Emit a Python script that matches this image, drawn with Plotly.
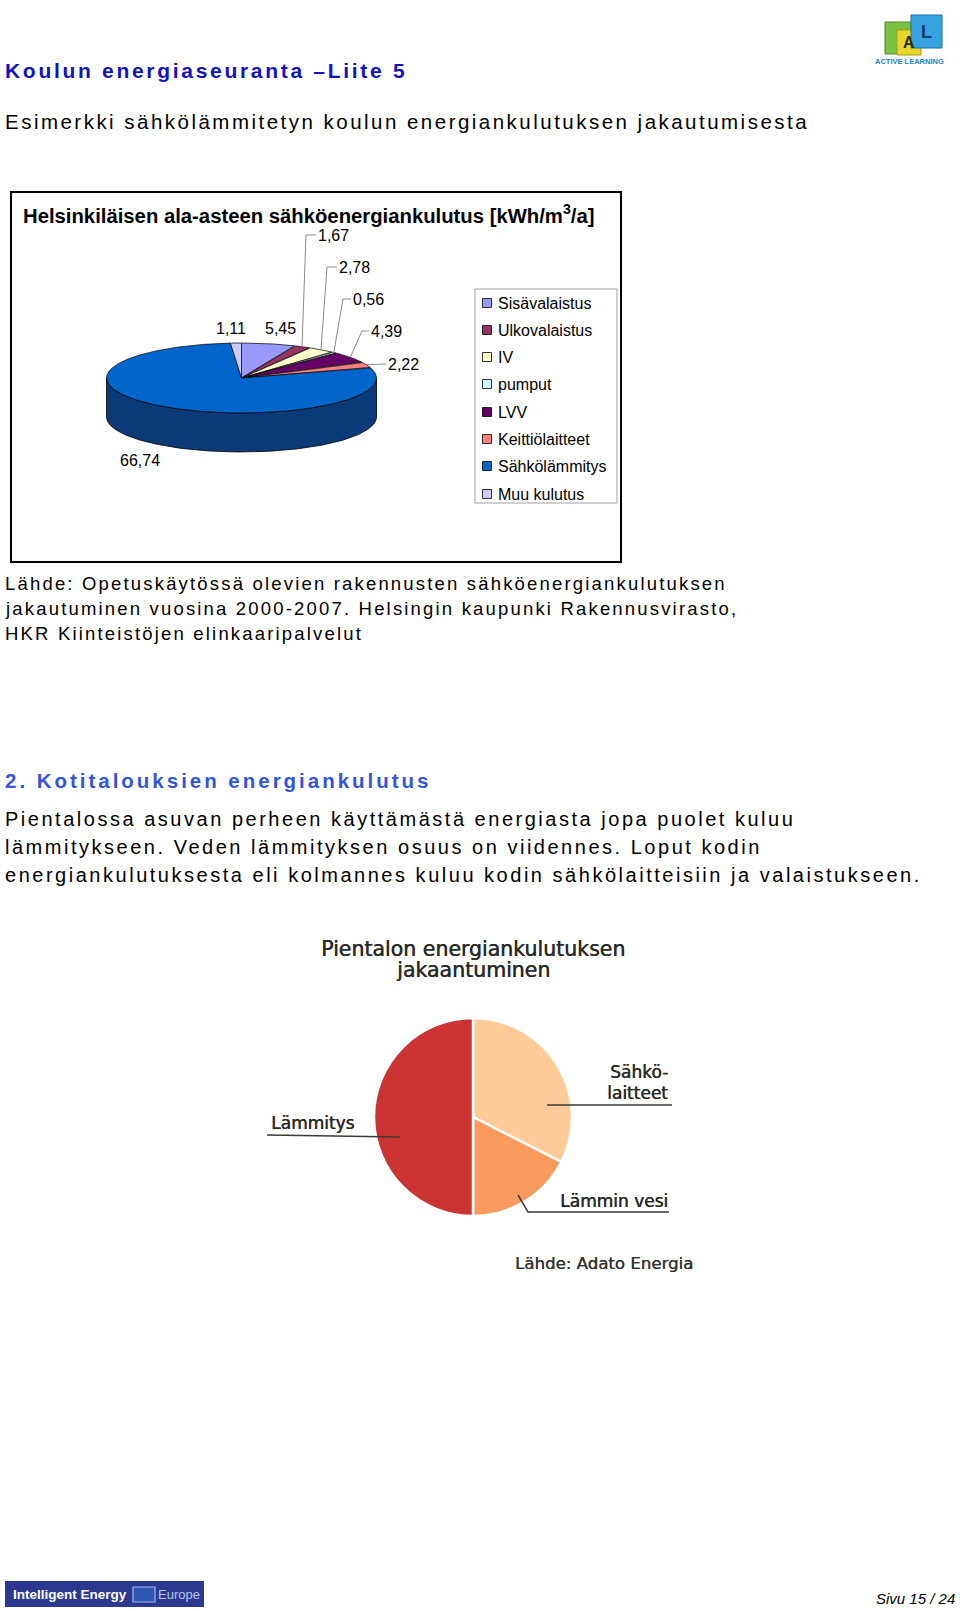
import math
import plotly.graph_objects as go

# ---------------- data ----------------
school_categories = ["Sisävalaistus", "Ulkovalaistus", "IV", "pumput", "LVV",
                     "Keittiölaitteet", "Sähkölämmitys", "Muu kulutus"]
school_values = [5.45, 1.67, 2.78, 0.56, 4.39, 2.22, 66.74, 1.11]
school_colors = ["#9999FF", "#993366", "#FFFFCC", "#CCFFFF", "#660066",
                 "#FF8080", "#0066CC", "#CCCCFF"]
school_title = "Helsinkiläisen ala-asteen sähköenergiankulutus [kWh/m<sup>3</sup>/a]"

home_categories = ["Sähkölaitteet", "Lämmin vesi", "Lämmitys"]
home_values = [32.5, 17.5, 50]
home_colors = ["#FDCB98", "#FB9A5F", "#CC3333"]

W, H = 960, 1611
FONT = "Liberation Sans, Arial, sans-serif"
VFONT = "DejaVu Sans, Verdana, sans-serif"

fig = go.Figure()

# ---------------- 3D-looking pie (school) ----------------
CX, CY, RX, RY, DEPTH = 241.5, 378, 135, 35, 39
total = sum(school_values)


def ept(theta_deg, dy=0.0):
    t = math.radians(theta_deg)
    return CX + RX * math.sin(t), CY - RY * math.cos(t) + dy


# side band (visible front half)
side_x, side_y = [], []
for k in range(0, 181):
    x, y = ept(90 + k)
    side_x.append(x); side_y.append(y)
for k in range(180, -1, -1):
    x, y = ept(90 + k, DEPTH)
    side_x.append(x); side_y.append(y)
side_x.append(side_x[0]); side_y.append(side_y[0])
fig.add_trace(go.Scatter(x=side_x, y=side_y, mode="lines", fill="toself",
                         fillcolor="#0b3a78", line=dict(color="#000000", width=0.8),
                         hoverinfo="skip"))

# top wedges
angles = []
cum = 0.0
for v in school_values:
    a0 = cum / total * 360
    cum += v
    a1 = cum / total * 360
    angles.append((a0, a1))

for (a0, a1), col in zip(angles, school_colors):
    xs, ys = [CX], [CY]
    n = max(4, int((a1 - a0) * 2))
    for k in range(n + 1):
        x, y = ept(a0 + (a1 - a0) * k / n)
        xs.append(x); ys.append(y)
    xs.append(CX); ys.append(CY)
    fig.add_trace(go.Scatter(x=xs, y=ys, mode="lines", fill="toself",
                             fillcolor=col, line=dict(color="#000000", width=0.7),
                             hoverinfo="skip"))

shapes = []
annotations = []


def txt(x, y, s, size, color="#000000", family=FONT, xanchor="left", ls=None,
        yanchor="middle", shadow=None):
    if ls is not None:
        s = f'<span style="letter-spacing:{ls}px">{s}</span>'
    font = dict(size=size, color=color, family=family)
    if shadow:
        font["shadow"] = shadow
    annotations.append(dict(x=x, y=y, xref="x", yref="y", text=s, showarrow=False,
                            xanchor=xanchor, yanchor=yanchor, font=font))


def line(x0, y0, x1, y1, color="#000", width=1):
    shapes.append(dict(type="line", xref="x", yref="y", x0=x0, y0=y0, x1=x1, y1=y1,
                       line=dict(color=color, width=width)))


def fmt(v):
    return f"{v:.2f}".replace(".", ",")


# data labels
LBL = 16
mid = [(a0 + a1) / 2 for a0, a1 in angles]
leader_labels = {1: (316, 235, 306), 2: (337, 267, 327), 3: (351, 299, 343), 4: (369, 331, 362)}
for i, (tx, ty, ex) in leader_labels.items():
    px, py = ept(mid[i])
    shapes.append(dict(type="path", xref="x", yref="y",
                       path=f"M {tx} {ty} L {ex} {ty} L {px:.1f} {py:.1f}",
                       line=dict(color="#8a8a8a", width=1)))
    txt(tx, ty, fmt(school_values[i]), LBL)
px, py = ept(mid[5])
line(px, py, 386, 364, "#8a8a8a", 1)
txt(386, 364, fmt(school_values[5]), LBL)
txt(280, 328, fmt(school_values[0]), LBL, xanchor="center")
txt(231, 328, fmt(school_values[7]), LBL, xanchor="center")
txt(140, 460, fmt(school_values[6]), LBL, xanchor="center")

# chart box + title
shapes.append(dict(type="rect", xref="x", yref="y", x0=11, y0=192, x1=621, y1=562,
                   line=dict(color="#000000", width=2)))
txt(21, 214, "<b>" + school_title + "</b>", 20.3)

# legend
shapes.append(dict(type="rect", xref="x", yref="y", x0=475, y0=289, x1=617, y1=503,
                   line=dict(color="#a0a0a0", width=1)))
row_y = [303, 330, 357, 384, 412, 439, 466, 494]
for cat, col, yy in zip(school_categories, school_colors, row_y):
    shapes.append(dict(type="rect", xref="x", yref="y", x0=482.5, y0=yy - 4.5, x1=491.5, y1=yy + 4.5,
                       fillcolor=col, line=dict(color="#000000", width=0.8)))
    txt(495.5, yy, cat, 16)

# ---------------- home pie ----------------
pcx, pcy, pr = 473, 1117, 99
fig.add_trace(go.Pie(labels=home_categories, values=home_values, sort=False,
                     direction="clockwise", rotation=0,
                     marker=dict(colors=home_colors, line=dict(color="#ffffff", width=2.5)),
                     textinfo="none", hoverinfo="label+percent",
                     domain=dict(x=[(pcx - pr) / W, (pcx + pr) / W],
                                 y=[(H - pcy - pr) / H, (H - pcy + pr) / H])))

SH = "0.5px 0 0 #2a2a2a"
txt(473, 949, "Pientalon energiankulutuksen", 20.5, "#2a2a2a", VFONT, "center", shadow=SH)
txt(473, 970, "jakaantuminen", 20.5, "#2a2a2a", VFONT, "center", shadow=SH)
txt(670, 1072, "Sähkö-", 17, "#2a2a2a", VFONT, "right", shadow=SH)
txt(670, 1093, "laitteet", 17, "#2a2a2a", VFONT, "right", shadow=SH)
line(547, 1105, 672, 1105, "#3a3a3a", 1.5)
txt(269, 1123, "Lämmitys", 17, "#2a2a2a", VFONT, "left", shadow=SH)
line(267, 1135, 400, 1137, "#3a3a3a", 1.5)
txt(670, 1201, "Lämmin vesi", 17, "#2a2a2a", VFONT, "right", shadow=SH)
shapes.append(dict(type="path", xref="x", yref="y", path="M 518 1195 L 528 1212 L 669 1212",
                   line=dict(color="#3a3a3a", width=1.5)))
txt(604, 1263, "Lähde: Adato Energia", 16.6, "#333333", VFONT, "center", shadow="0.3px 0 0 #333")

# ---------------- page text ----------------
X0 = 3
txt(X0, 70, "<b>Koulun energiaseuranta –Liite 5</b>", 21, "#1212c4", ls=2.7)
txt(X0, 121, "Esimerkki sähkölämmitetyn koulun energiankulutuksen jakautumisesta", 20.5, ls=2.48)
src_lines = ["Lähde: Opetuskäytössä olevien rakennusten sähköenergiankulutuksen",
             "jakautuminen vuosina 2000-2007. Helsingin kaupunki Rakennusvirasto,",
             "HKR Kiinteistöjen elinkaaripalvelut"]
for k, s in enumerate(src_lines):
    txt(X0, 583 + 25 * k, s, 18.5, ls=2.18)
txt(X0, 780, "<b>2. Kotitalouksien energiankulutus</b>", 20.5, "#3355dd", ls=2.98)
para = ["Pientalossa asuvan perheen käyttämästä energiasta jopa puolet kuluu",
        "lämmitykseen. Veden lämmityksen osuus on viidennes. Loput kodin",
        "energiankulutuksesta eli kolmannes kuluu kodin sähkölaitteisiin ja valaistukseen."]
for k, s in enumerate(para):
    txt(X0, 819 + 28 * k, s, 20, ls=2.52)

# ---------------- logos / footer ----------------
shapes += [
    dict(type="rect", xref="x", yref="y", x0=885, y0=22, x1=911, y1=54,
         fillcolor="#7cc242", line=dict(color="#4f8a22", width=1)),
    dict(type="rect", xref="x", yref="y", x0=897, y0=30, x1=921, y1=55,
         fillcolor="#e8d52c", line=dict(color="#a89a10", width=1)),
    dict(type="rect", xref="x", yref="y", x0=911, y0=15, x1=942, y1=48,
         fillcolor="#36a2e0", line=dict(color="#1b6fa8", width=1)),
]
txt(909, 42, "<b>A</b>", 16, "#2b2b10", xanchor="center")
txt(926, 32, "<b>L</b>", 18, "#103a70", xanchor="center")
txt(909, 61, "<b>ACTIVE LEARNING</b>", 7.5, "#1a86c8", xanchor="center")

shapes.append(dict(type="rect", xref="x", yref="y", x0=5, y0=1581, x1=204, y1=1607,
                   fillcolor="#2b3990", line=dict(color="#2b3990", width=0)))
shapes.append(dict(type="rect", xref="x", yref="y", x0=133, y0=1587, x1=155, y1=1602,
                   fillcolor="#2f56b0", line=dict(color="#9fb8ee", width=1.2)))
txt(11, 1594, "<b>Intelligent Energy</b>", 13.5, "#ffffff")
txt(156, 1594, "Europe", 13, "#b9c6ee")
txt(957, 1598, "<i>Sivu 15 / 24</i>", 15, "#000000", xanchor="right")

fig.update_layout(
    width=W, height=H, margin=dict(l=0, r=0, t=0, b=0),
    paper_bgcolor="#ffffff", plot_bgcolor="#ffffff", showlegend=False,
    xaxis=dict(range=[0, W], visible=False, domain=[0, 1], fixedrange=True),
    yaxis=dict(range=[H, 0], visible=False, domain=[0, 1], fixedrange=True),
    shapes=shapes, annotations=annotations,
)

fig.write_html("out.html", config={"displayModeBar": False},
               post_script="document.body.style.margin='0';")
